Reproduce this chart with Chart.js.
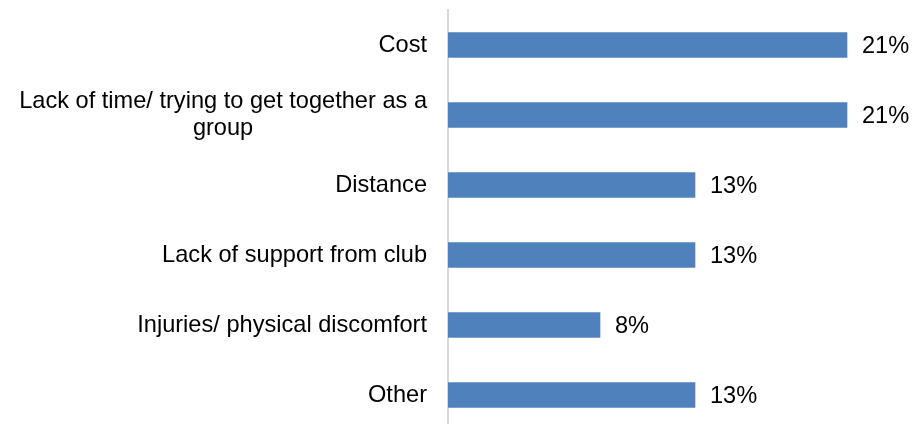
<!DOCTYPE html>
<html>
<head>
<meta charset="utf-8">
<script src="https://cdn.jsdelivr.net/npm/chart.js@4.4.1/dist/chart.umd.min.js"></script>
<style>
  html, body { margin: 0; padding: 0; background: #fff; overflow: hidden; }
  #wrap { position: relative; width: 914px; height: 441px; }
</style>
</head>
<body>
<div id="wrap"><canvas id="chart" width="914" height="441"></canvas></div>
<script>
// Barriers to taking part (share of responses)
const categories = [
  ['Cost'],
  ['Lack of time/ trying to get together as a', 'group'],
  ['Distance'],
  ['Lack of support from club'],
  ['Injuries/ physical discomfort'],
  ['Other']
];
const percentages = [21, 21, 13, 13, 8, 13];

const FONT = '23.6px "Liberation Sans", Arial, sans-serif';
const TEXT_COLOR = '#000000';

// Category names, right-aligned against the axis; wrapped lines are centred on each other
const categoryLabels = {
  id: 'categoryLabels',
  afterDraw(chart) {
    const { ctx, chartArea } = chart;
    const yScale = chart.scales.y;
    const rightEdge = chartArea.left - 21;
    const lineHeight = 27;
    ctx.save();
    ctx.font = FONT;
    ctx.fillStyle = TEXT_COLOR;
    ctx.textBaseline = 'middle';
    categories.forEach((lines, i) => {
      const yc = yScale.getPixelForValue(i);
      const widths = lines.map(l => ctx.measureText(l).width);
      const maxW = Math.max(...widths);
      const centre = rightEdge - maxW / 2;
      const y0 = yc - (lines.length - 1) * lineHeight / 2;
      lines.forEach((l, j) => {
        ctx.textAlign = lines.length > 1 ? 'center' : 'right';
        const x = lines.length > 1 ? centre : rightEdge;
        ctx.fillText(l, x, y0 + j * lineHeight);
      });
    });
    ctx.restore();
  }
};

// Percentage labels just past the end of each bar
const valueLabels = {
  id: 'valueLabels',
  afterDatasetsDraw(chart) {
    const { ctx } = chart;
    const meta = chart.getDatasetMeta(0);
    ctx.save();
    ctx.font = FONT;
    ctx.fillStyle = TEXT_COLOR;
    ctx.textAlign = 'left';
    ctx.textBaseline = 'middle';
    meta.data.forEach((bar, i) => {
      ctx.fillText(percentages[i] + '%', bar.x + 15, bar.y + 1);
    });
    ctx.restore();
  }
};

new Chart(document.getElementById('chart'), {
  type: 'bar',
  data: {
    labels: categories,
    datasets: [{
      data: percentages,
      backgroundColor: '#4F81BD',
      borderWidth: 0,
      barThickness: 25
    }]
  },
  options: {
    indexAxis: 'y',
    responsive: false,
    animation: false,
    layout: { padding: { top: 10, bottom: 11, right: 48, left: 0 } },
    plugins: {
      legend: { display: false },
      tooltip: { enabled: false }
    },
    scales: {
      x: {
        display: false,
        min: 0,
        max: 22
      },
      y: {
        display: true,
        grid: { display: false, drawTicks: false },
        border: { display: true, color: '#D9D9D9', width: 2 },
        ticks: { display: false },
        afterFit(scale) { scale.width = 448; }
      }
    }
  },
  plugins: [categoryLabels, valueLabels]
});
</script>
</body>
</html>
